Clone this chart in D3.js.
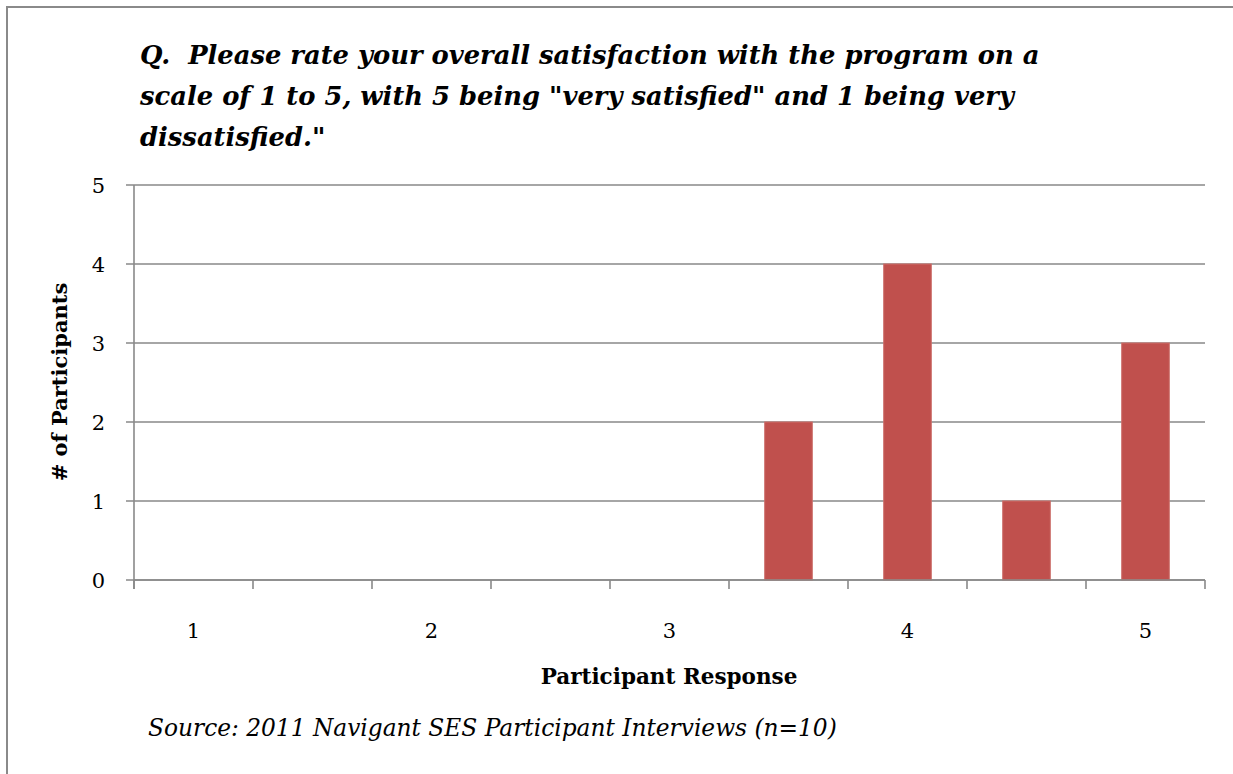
<!DOCTYPE html>
<html>
<head>
<meta charset="utf-8">
<script src="https://cdn.jsdelivr.net/npm/d3@7"></script>
<style>
  html, body { margin: 0; padding: 0; background: #fff; }
  svg { display: block; }
  text { white-space: pre; }
</style>
</head>
<body>
<svg id="chart" width="1233" height="774"></svg>
<script>
// Response categories (half-steps between the labelled scale points)
const categories = ["1", "1.5", "2", "2.5", "3", "3.5", "4", "4.5", "5"];
// Number of participants giving each response
const counts = [0, 0, 0, 0, 0, 2, 4, 1, 3];
// Categories that carry a tick label
const xTickLabels = ["1", "2", "3", "4", "5"];
// Value-axis ticks
const yTicks = [0, 1, 2, 3, 4, 5];

const titleLines = [
  "Q.  Please rate your overall satisfaction with the program on a",
  "scale of 1 to 5, with 5 being \"very satisfied\" and 1 being very",
  "dissatisfied.\""
];
const xTitle = "Participant Response";
const yTitle = "# of Participants";
const sourceNote = "Source: 2011 Navigant SES Participant Interviews (n=10)";

const serif = "'DejaVu Serif', 'Liberation Serif', serif";
const gridColor = "#898989";
const barColor = "#C0504D";

const svg = d3.select("#chart");

// Frame along the top and left edges
svg.append("path")
  .attr("d", "M7,774 L7,7 L1233,7")
  .attr("fill", "none")
  .attr("stroke", "#8a8a8a")
  .attr("stroke-width", 2);

const plot = { left: 134, right: 1205, top: 185, bottom: 580 };

const x = d3.scaleBand()
  .domain(categories)
  .range([plot.left, plot.right])
  .padding(0);

const y = d3.scaleLinear()
  .domain([0, 5])
  .range([plot.bottom, plot.top]);

// Horizontal gridlines with ticks on the left
const grid = svg.append("g");
grid.selectAll("line.grid")
  .data(yTicks)
  .join("line")
  .attr("class", "grid")
  .attr("x1", plot.left - 8)
  .attr("x2", plot.right)
  .attr("y1", d => y(d))
  .attr("y2", d => y(d))
  .attr("stroke", gridColor)
  .attr("stroke-width", 1.6);

// Y tick labels
svg.append("g")
  .selectAll("text")
  .data(yTicks)
  .join("text")
  .attr("x", 105)
  .attr("y", d => y(d) + 8)
  .attr("text-anchor", "end")
  .attr("font-family", serif)
  .attr("font-size", 21)
  .attr("fill", "#000")
  .text(d => d);

// Bars
svg.append("g")
  .selectAll("rect")
  .data(categories.map((c, i) => ({ c, v: counts[i] })).filter(d => d.v > 0))
  .join("rect")
  .attr("x", d => x(d.c) + x.bandwidth() * 0.3)
  .attr("width", x.bandwidth() * 0.4)
  .attr("y", d => y(d.v))
  .attr("height", d => y(0) - y(d.v))
  .attr("fill", barColor)
  .attr("stroke", "#cc6e6b")
  .attr("stroke-width", 1);

// Y axis line
svg.append("line")
  .attr("x1", plot.left).attr("x2", plot.left)
  .attr("y1", plot.top).attr("y2", plot.bottom + 9)
  .attr("stroke", gridColor)
  .attr("stroke-width", 1.6);

// X axis line and category boundary ticks
svg.append("line")
  .attr("x1", plot.left).attr("x2", plot.right)
  .attr("y1", plot.bottom).attr("y2", plot.bottom)
  .attr("stroke", gridColor)
  .attr("stroke-width", 1.6);

const boundaries = categories.map(c => x(c)).concat([x.range()[1]]);
svg.append("g")
  .selectAll("line")
  .data(boundaries)
  .join("line")
  .attr("x1", d => d).attr("x2", d => d)
  .attr("y1", plot.bottom).attr("y2", plot.bottom + 9)
  .attr("stroke", gridColor)
  .attr("stroke-width", 1.6);

// X tick labels
svg.append("g")
  .selectAll("text")
  .data(xTickLabels)
  .join("text")
  .attr("x", d => x(d) + x.bandwidth() / 2)
  .attr("y", 638)
  .attr("text-anchor", "middle")
  .attr("font-family", serif)
  .attr("font-size", 21)
  .attr("fill", "#000")
  .text(d => d);

// Axis titles
svg.append("text")
  .attr("x", 669)
  .attr("y", 684)
  .attr("text-anchor", "middle")
  .attr("font-family", serif)
  .attr("font-weight", "bold")
  .attr("font-size", 21.5)
  .text(xTitle);

svg.append("text")
  .attr("transform", "translate(67,382) rotate(-90)")
  .attr("text-anchor", "middle")
  .attr("font-family", serif)
  .attr("font-weight", "bold")
  .attr("font-size", 21)
  .text(yTitle);

// Question title
svg.append("g")
  .selectAll("text")
  .data(titleLines)
  .join("text")
  .attr("x", 140)
  .attr("y", (d, i) => 64 + i * 41)
  .attr("font-family", serif)
  .attr("font-weight", "bold")
  .attr("font-style", "italic")
  .attr("font-size", 25.8)
  .attr("fill", "#000")
  .text(d => d);

// Source note
svg.append("text")
  .attr("x", 148)
  .attr("y", 736)
  .attr("font-family", serif)
  .attr("font-style", "italic")
  .attr("font-size", 23.3)
  .attr("fill", "#000")
  .text(sourceNote);
</script>
</body>
</html>
